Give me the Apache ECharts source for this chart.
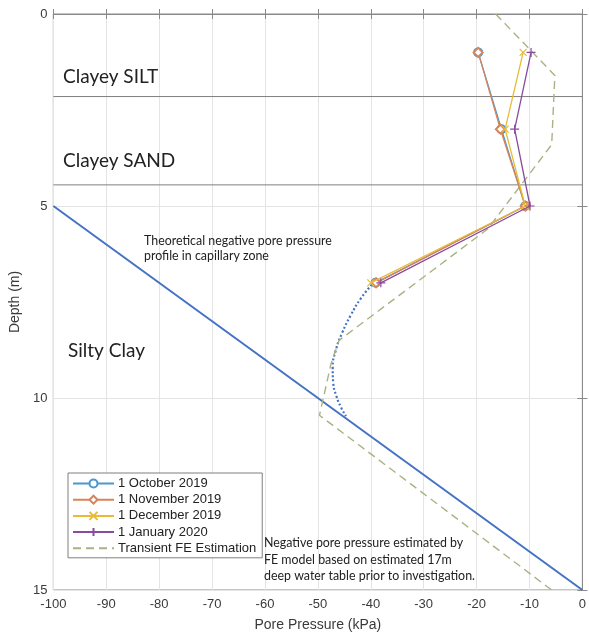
<!DOCTYPE html>
<html>
<head>
<meta charset="utf-8">
<script src="https://cdn.jsdelivr.net/npm/echarts@6/dist/echarts.min.js"></script>
<style>
html,body{margin:0;padding:0;background:#fff;overflow:hidden;}
#chart{width:589px;height:637px;}
</style>
</head>
<body>
<div id="chart"></div>
<script>
// ---- data (pore pressure kPa, depth m) ----
const seriesNames = ['1 October 2019', '1 November 2019', '1 December 2019', '1 January 2020', 'Transient FE Estimation'];
const depths = [1, 3, 5, 7];
const oct2019 = [-19.7, -15.3, -10.8, -39.1];
const nov2019 = [-19.7, -15.5, -10.8, -39.0];
const dec2019 = [-11.2, -14.6, -10.8, -40.0];
const jan2020 = [-9.7, -12.8, -9.9, -38.1];
const feDepth = [0, 1.6, 3.4, 5.6, 8.5, 9.1, 10.45, 15];
const fePressure = [-16.4, -5.2, -5.8, -17.9, -46.0, -47.5, -49.7, -5.8];
const theoryDepth = [5, 15];
const theoryPressure = [-100, 0];
const capDepth = [7.05, 7.41, 7.85, 8.3, 8.75, 9.2, 9.6, 9.95, 10.25, 10.47];
const capPressure = [-39.8, -41.9, -43.8, -45.4, -46.6, -47.2, -47.1, -46.5, -45.6, -44.7];
const layerDepths = [2.15, 4.45];
const xTicks = [-100, -90, -80, -70, -60, -50, -40, -30, -20, -10, 0];
const yTicks = [0, 5, 10, 15];

function pairs(xs, ys) { return xs.map((x, i) => [x, ys[i]]); }

const chart = echarts.init(document.getElementById('chart'), null, {renderer: 'canvas'});

const axisGray = '#8a8a8a';
const labelColor = '#3a3a3a';
const tickFont = 'Liberation Sans';
const colors = ['#4a98cc', '#d8845a', '#e9ba35', '#8a4a9e', '#a7b385'];
const symX = 'path://M0,0L10,10M10,0L0,10';
const symPlus = 'path://M5,0L5,10M0,5L10,5';

function dataSeries(name, vals, color, symbol, size, z) {
  return {
    name: name, type: 'line', xAxisIndex: 0, yAxisIndex: 0,
    data: pairs(vals, depths),
    symbol: symbol, symbolSize: size, showSymbol: true,
    lineStyle: {color: color, width: 1.3},
    itemStyle: {color: color, borderColor: color, borderWidth: 1.2},
    z: z, animation: false
  };
}

const series = [];
series.push({
  type: 'line', data: pairs(theoryPressure, theoryDepth), symbol: 'none',
  lineStyle: {color: '#4472c4', width: 2}, z: 2, animation: false, silent: true
});
series.push({
  type: 'line', data: pairs(capPressure, capDepth), symbol: 'none', smooth: true,
  lineStyle: {color: '#4472c4', width: 2.2, type: [2, 2.2]}, z: 2, animation: false, silent: true
});
layerDepths.forEach(d => {
  series.push({
    type: 'line', data: [[-100, d], [0, d]], symbol: 'none',
    lineStyle: {color: '#7f7f7f', width: 1}, z: 1, animation: false, silent: true
  });
});
series.push({
  name: seriesNames[4], type: 'line', data: pairs(fePressure, feDepth), symbol: 'none',
  lineStyle: {color: colors[4], width: 1.4, type: [8, 5]},
  itemStyle: {color: colors[4]}, z: 3, animation: false
});
series.push(dataSeries(seriesNames[0], oct2019, colors[0], 'emptyCircle', 8, 4));
series.push(dataSeries(seriesNames[1], nov2019, colors[1], 'emptyDiamond', 9, 5));
series.push(dataSeries(seriesNames[2], dec2019, colors[2], symX, 7, 6));
series.push(dataSeries(seriesNames[3], jan2020, colors[3], symPlus, 9, 7));

const legendData = seriesNames.map((n, i) => i === 4
  ? {name: n, itemStyle: {color: 'rgba(0,0,0,0)', borderColor: 'rgba(0,0,0,0)', borderWidth: 0, opacity: 0}}
  : {name: n});

const option = {
  backgroundColor: '#fff',
  animation: false,
  grid: {left: 51, right: 3, top: 14, bottom: 43, show: true, borderColor: axisGray, borderWidth: 1, backgroundColor: 'transparent'},
  xAxis: [{
    type: 'value', min: -100, max: 0, interval: 10, position: 'bottom',
    name: 'Pore Pressure (kPa)', nameLocation: 'middle', nameGap: 28,
    nameTextStyle: {fontFamily: tickFont, fontSize: 14, color: labelColor},
    axisLine: {show: true, lineStyle: {color: axisGray}},
    axisTick: {show: true, inside: true, length: 5, lineStyle: {color: axisGray}},
    axisLabel: {fontFamily: tickFont, fontSize: 13, color: labelColor, margin: 8},
    splitLine: {show: true, lineStyle: {color: '#e4e4e4', width: 1}}
  }, {
    type: 'value', min: -100, max: 0, interval: 10, position: 'top',
    axisLine: {show: true, lineStyle: {color: axisGray}},
    axisTick: {show: true, inside: true, length: 5, lineStyle: {color: axisGray}},
    axisLabel: {show: false}, splitLine: {show: false}
  }],
  yAxis: [{
    type: 'value', min: 0, max: 15, interval: 5, inverse: true, position: 'left',
    name: 'Depth (m)', nameLocation: 'middle', nameGap: 27, nameRotate: 90,
    nameTextStyle: {fontFamily: tickFont, fontSize: 14, color: labelColor},
    axisLine: {show: true, lineStyle: {color: axisGray}},
    axisTick: {show: true, inside: true, length: 5, lineStyle: {color: axisGray}},
    axisLabel: {fontFamily: tickFont, fontSize: 13, color: labelColor, margin: 6},
    splitLine: {show: true, lineStyle: {color: '#e4e4e4', width: 1}}
  }, {
    type: 'value', min: 0, max: 15, interval: 5, inverse: true, position: 'right',
    axisLine: {show: true, lineStyle: {color: axisGray}},
    axisTick: {show: true, inside: true, length: 5, lineStyle: {color: axisGray}},
    axisLabel: {show: false}, splitLine: {show: false}
  }],
  legend: {
    data: legendData,
    orient: 'vertical', left: 68, top: 473,
    backgroundColor: '#fff', borderColor: '#7f7f7f', borderWidth: 1,
    padding: [4, 6, 3, 4],
    itemWidth: 41, itemHeight: 10, itemGap: 3.2,
    textStyle: {fontFamily: tickFont, fontSize: 13, color: '#222', lineHeight: 13, padding: [0, 0, 0, -1]},
    selectedMode: false
  },
  graphic: [
    {type: 'text', left: 63, top: 67, z: 50, style: {text: 'Clayey SILT', font: '19px Lato', fill: '#222'}},
    {type: 'text', left: 63, top: 151, z: 50, style: {text: 'Clayey SAND', font: '19px Lato', fill: '#222'}},
    {type: 'text', left: 68, top: 341, z: 50, style: {text: 'Silty Clay', font: '19px Lato', fill: '#222'}},
    {type: 'text', left: 144, top: 233, z: 50, style: {text: 'Theoretical negative pore pressure\nprofile in capillary zone', font: '12.4px Lato', lineHeight: 15, fill: '#222'}},
    {type: 'text', left: 264, top: 535, z: 50, style: {text: 'Negative pore pressure estimated by\nFE model based on estimated 17m\ndeep water table prior to investigation.', font: '12.4px Lato', lineHeight: 16.5, fill: '#222'}}
  ],
  series: series
};
chart.setOption(option);
</script>
</body>
</html>
